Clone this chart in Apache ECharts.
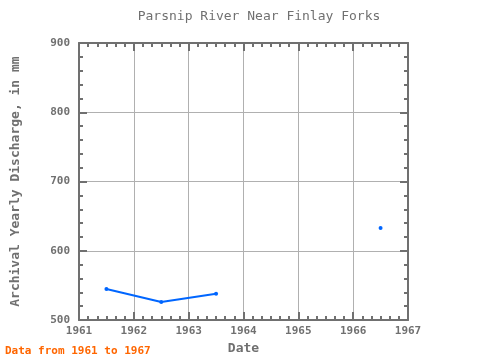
<!DOCTYPE html>
<html><head><meta charset="utf-8">
<script src="https://cdn.jsdelivr.net/npm/echarts@6/dist/echarts.min.js"></script>
<style>html,body{margin:0;padding:0;background:#fff}#c{width:480px;height:360px}</style>
</head><body><div id="c"></div>
<script>
var years = [1961.5, 1962.5, 1963.5, 1964.5, 1965.5, 1966.5];
var discharge = [545, 526, 538, null, null, 633];
var xTicks = [1961, 1962, 1963, 1964, 1965, 1966, 1967];
var yTicks = [500, 600, 700, 800, 900];

var font = 'DejaVu Sans Mono';
var gray = '#707070';
var data = years.map(function (y, i) { return [y, discharge[i]]; });

var chart = echarts.init(document.getElementById('c'));
var baseX = {
  type: 'value', min: xTicks[0], max: xTicks[xTicks.length - 1], interval: 1,
  axisLine: { show: true, lineStyle: { color: gray, width: 2 } },
  axisTick: { show: true, inside: true, length: 8, lineStyle: { color: gray, width: 2 } },
  minorTick: { show: true, splitNumber: 6, length: 4, lineStyle: { color: gray, width: 2 } },
  splitLine: { show: false }
};
var baseY = {
  type: 'value', min: yTicks[0], max: yTicks[yTicks.length - 1], interval: 100,
  axisLine: { show: true, lineStyle: { color: gray, width: 2 } },
  axisTick: { show: true, inside: true, length: 8, lineStyle: { color: gray, width: 2 } },
  minorTick: { show: true, splitNumber: 5, length: 4, lineStyle: { color: gray, width: 2 } },
  splitLine: { show: false }
};
chart.setOption({
  animation: false,
  title: {
    text: 'Parsnip River Near Finlay Forks', left: 254, top: 5, textAlign: 'center',
    textStyle: { fontFamily: font, fontSize: 13, fontWeight: 'normal', color: gray }
  },
  graphic: [{
    type: 'text', left: 5, top: 346,
    style: { text: 'Data from 1961 to 1967', fill: '#ff6600', font: 'bold 11px "DejaVu Sans Mono"' }
  }],
  grid: { left: 79, right: 72, top: 43, bottom: 38 },
  xAxis: [
    Object.assign({}, baseX, {
      position: 'bottom', name: 'Date', nameLocation: 'middle', nameGap: 21,
      nameTextStyle: { fontFamily: font, fontSize: 13, fontWeight: 'bold', color: gray },
      axisLabel: { fontFamily: font, fontSize: 11, fontWeight: 'bold', color: gray, margin: 6,
        formatter: function (v) { return String(v); } },
      splitLine: { show: true, lineStyle: { color: '#b0b0b0', width: 1 } }
    }),
    Object.assign({}, baseX, { position: 'top', axisLabel: { show: false } })
  ],
  yAxis: [
    Object.assign({}, baseY, {
      position: 'left', name: 'Archival Yearly Discharge, in mm', nameLocation: 'middle', nameGap: 57,
      nameTextStyle: { fontFamily: font, fontSize: 13, fontWeight: 'bold', color: gray },
      axisLabel: { fontFamily: font, fontSize: 11, fontWeight: 'bold', color: gray, margin: 9 },
      splitLine: { show: true, lineStyle: { color: '#b0b0b0', width: 1 } }
    }),
    Object.assign({}, baseY, { position: 'right', axisLabel: { show: false } })
  ],
  series: [{
    type: 'line', data: data, connectNulls: false,
    symbol: 'circle', symbolSize: 4, showSymbol: true,
    lineStyle: { color: '#0066ff', width: 2 }, itemStyle: { color: '#0066ff' }
  }]
});
</script></body></html>
